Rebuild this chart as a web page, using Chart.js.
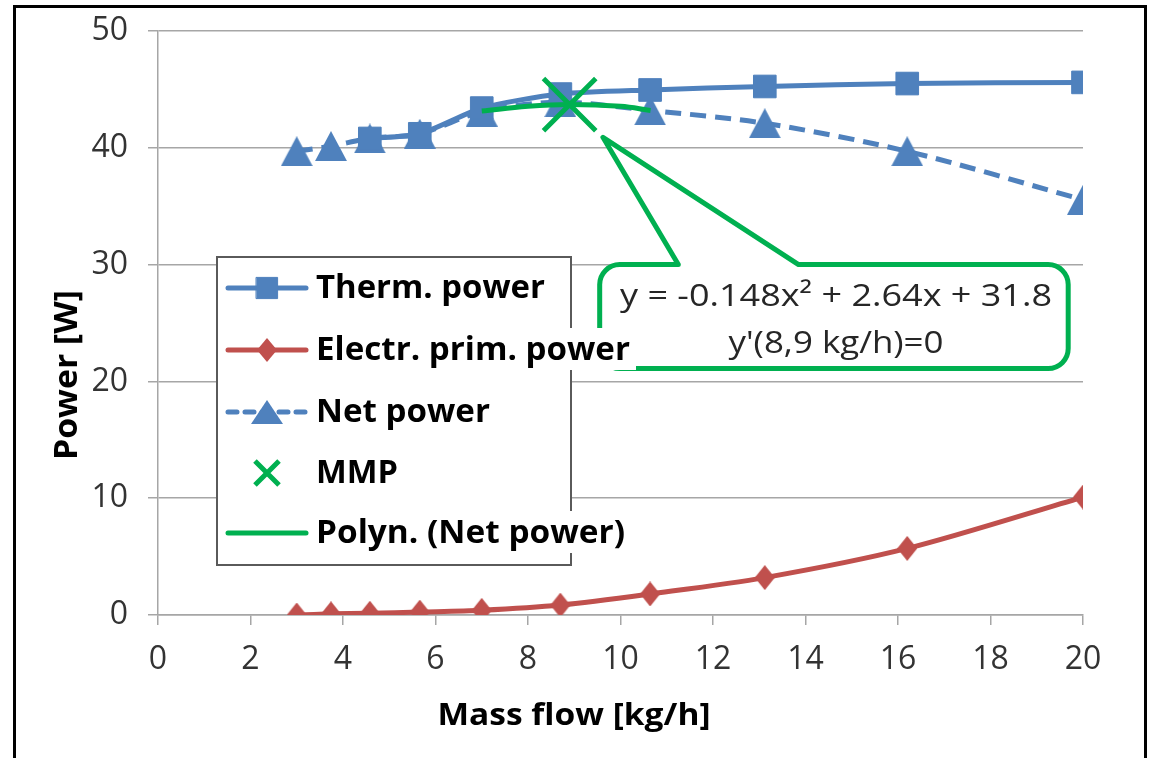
<!DOCTYPE html>
<html>
<head>
<meta charset="utf-8">
<script src="https://cdn.jsdelivr.net/npm/chart.js@4/dist/chart.umd.min.js"></script>
<style>
  html, body { margin: 0; padding: 0; background: #fff; }
  canvas { display: block; }
</style>
</head>
<body>
<canvas id="chart" width="1149" height="758"></canvas>
<script>
// data
const massFlow    = [3.0, 3.74, 4.58, 5.66, 7.0, 8.7, 10.64, 13.12, 16.2, 20.0];
const thermPower  = [null, null, 40.8, 41.2, 43.4, 44.6, 44.95, 45.25, 45.5, 45.6];
const electrPower = [0.0, 0.1, 0.15, 0.25, 0.4, 0.85, 1.8, 3.2, 5.7, 10.1];
const netPower    = [39.7, 40.15, 40.8, 41.2, 43.1, 43.9, 43.2, 42.1, 39.7, 35.55];
const mmpX = [8.9];
const mmpY = [43.7];
const polyX = [7.0, 8.0, 8.9, 10.0, 10.65];
const polyY = [43.15, 43.55, 43.7, 43.55, 43.2];
const xTicks = [0, 2, 4, 6, 8, 10, 12, 14, 16, 18, 20];
const yTicks = [0, 10, 20, 30, 40, 50];
const legendLabels = ["Therm. power", "Electr. prim. power", "Net power", "MMP", "Polyn. (Net power)"];
const eqLines = ["y = -0.148x\u00B2 + 2.64x + 31.8", "y'(8,9 kg/h)=0"];

const BLUE = "#4F81BD";
const RED = "#C0504D";
const GREEN = "#00B050";
const GRID = "#a6a6a6";

function pts(xs, ys) {
  return xs.map((x, i) => ({ x: x, y: ys[i] })).filter(p => p.y !== null);
}

// marker images centred on their box, like the spreadsheet markers
function markerImg(w, h, color, shape) {
  const c = document.createElement("canvas");
  c.width = w; c.height = h;
  const g = c.getContext("2d");
  g.fillStyle = color;
  g.beginPath();
  if (shape === "tri") {
    g.moveTo(w / 2, 0); g.lineTo(w, h); g.lineTo(0, h);
  } else {
    g.moveTo(w / 2, 0); g.lineTo(w, h / 2); g.lineTo(w / 2, h); g.lineTo(0, h / 2);
  }
  g.closePath();
  g.fill();
  return c;
}
const triMark = markerImg(32, 30, BLUE, "tri");
const triLegend = markerImg(32, 24, BLUE, "tri");
const diaMark = markerImg(20, 25, RED, "dia");
const diaLegend = markerImg(20, 24, RED, "dia");

// callout box in data units
const callout = { left: 9.55, right: 19.68, top: 30.0, bottom: 21.1, base1: 11.25, base2: 13.85, tipX: 9.62, tipY: 40.9 };

function roundPath(ctx, L, T, R, B, r, b1, b2, tx, ty) {
  ctx.beginPath();
  ctx.moveTo(L + r, T);
  ctx.lineTo(b1, T);
  ctx.lineTo(tx, ty);
  ctx.lineTo(b2, T);
  ctx.lineTo(R - r, T);
  ctx.arcTo(R, T, R, T + r, r);
  ctx.lineTo(R, B - r);
  ctx.arcTo(R, B, R - r, B, r);
  ctx.lineTo(L + r, B);
  ctx.arcTo(L, B, L, B - r, r);
  ctx.lineTo(L, T + r);
  ctx.arcTo(L, T, L + r, T, r);
  ctx.closePath();
}

// draw text squeezed/stretched to a given width (the source font is wider)
function fitText(ctx, text, x, y, width) {
  const w = ctx.measureText(text).width;
  ctx.save();
  ctx.translate(x, y);
  ctx.scale(width / w, 1);
  ctx.fillText(text, 0, 0);
  ctx.restore();
}

function drawSymbol(ctx, ds, cx, cy) {
  ctx.save();
  if (ds.showLine !== false) {
    ctx.strokeStyle = ds.borderColor;
    ctx.lineWidth = ds.borderWidth;
    ctx.setLineDash(ds.borderDash ? [9, 8] : []);
    ctx.lineCap = "round";
    ctx.beginPath();
    ctx.moveTo(cx - 39, cy);
    ctx.lineTo(cx + 39, cy);
    ctx.stroke();
    ctx.setLineDash([]);
  }
  if (ds.legendRadius) {
    ctx.fillStyle = ds.pointBackgroundColor || ds.borderColor;
    ctx.strokeStyle = ds.pointBorderColor || ds.borderColor;
    ctx.lineWidth = ds.pointBorderWidth || 1;
    Chart.helpers.drawPoint(ctx, {
      pointStyle: ds.legendStyle || ds.pointStyle,
      radius: ds.legendRadius,
      rotation: 0,
      borderWidth: ds.pointBorderWidth || 1
    }, cx, cy);
  }
  ctx.restore();
}

const overlay = {
  id: "overlay",
  afterDatasetsDraw(chart) {
    const ctx = chart.ctx;
    const xs = chart.scales.x, ys = chart.scales.y;

    // equation callout
    const L = xs.getPixelForValue(callout.left), R = xs.getPixelForValue(callout.right);
    const T = ys.getPixelForValue(callout.top), B = ys.getPixelForValue(callout.bottom);
    ctx.save();
    roundPath(ctx, L, T, R, B, 20,
      xs.getPixelForValue(callout.base1), xs.getPixelForValue(callout.base2),
      xs.getPixelForValue(callout.tipX), ys.getPixelForValue(callout.tipY));
    ctx.fillStyle = "#fff";
    ctx.fill();
    ctx.strokeStyle = GREEN;
    ctx.lineWidth = 5;
    ctx.lineJoin = "round";
    ctx.stroke();
    ctx.fillStyle = "#262626";
    ctx.font = '31px "Open Sans"';
    ctx.textAlign = "center";
    ctx.textBaseline = "alphabetic";
    fitText(ctx, eqLines[0], 836, T + 41, 432);
    fitText(ctx, eqLines[1], 836, T + 88, 215);
    ctx.restore();

    // legend
    ctx.save();
    ctx.fillStyle = "#fff";
    ctx.fillRect(217, 257, 354, 308);
    ctx.strokeStyle = "#5a5a5a";
    ctx.lineWidth = 2;
    ctx.strokeRect(217, 257, 354, 308);
    ctx.font = 'bold 33px "Open Sans"';
    ctx.textBaseline = "alphabetic";
    ctx.textAlign = "left";
    const rows = [288, 350, 412, 473, 533];
    const widths = [229, 314, 174, 82, 309];
    chart.data.datasets.forEach((ds, i) => {
      const cy = rows[i];
      drawSymbol(ctx, ds, 267, cy);
      ctx.fillStyle = "#fff";
      ctx.fillRect(314, cy - 22, widths[i] + 8, 42);
      ctx.fillStyle = "#000";
      const w = ctx.measureText(legendLabels[i]).width;
      ctx.save();
      ctx.translate(316, cy + 10);
      ctx.scale(widths[i] / w, 1);
      ctx.fillText(legendLabels[i], 0, 0);
      ctx.restore();
    });
    ctx.restore();

    // axis titles
    ctx.save();
    ctx.fillStyle = "#000";
    ctx.font = 'bold 31px "Open Sans"';
    ctx.textAlign = "center";
    ctx.textBaseline = "alphabetic";
    fitText(ctx, "Mass flow [kg/h]", 574, 725, 273);
    ctx.font = 'bold 33px "Open Sans"';
    ctx.translate(77, 375);
    ctx.rotate(-Math.PI / 2);
    fitText(ctx, "Power [W]", 0, 0, 170);
    ctx.restore();
  },
  afterDraw(chart) {
    const ctx = chart.ctx;
    ctx.save();
    ctx.strokeStyle = "#000";
    ctx.lineWidth = 3;
    ctx.beginPath();
    ctx.moveTo(14.5, 758);
    ctx.lineTo(14.5, 6.5);
    ctx.lineTo(1145.5, 6.5);
    ctx.lineTo(1145.5, 758);
    ctx.stroke();
    ctx.restore();
  }
};

const tickFont = { family: "Open Sans", size: 32 };

new Chart(document.getElementById("chart"), {
  type: "line",
  data: {
    datasets: [
      {
        label: legendLabels[0],
        data: pts(massFlow, thermPower),
        borderColor: BLUE, backgroundColor: BLUE, borderWidth: 5,
        pointStyle: "rect", pointRadius: 16, legendRadius: 15,
        pointBackgroundColor: BLUE, pointBorderColor: BLUE, pointBorderWidth: 1,
        tension: 0.25, order: 2
      },
      {
        label: legendLabels[1],
        data: pts(massFlow, electrPower),
        borderColor: RED, backgroundColor: RED, borderWidth: 5,
        pointStyle: diaMark, legendStyle: diaLegend, pointRadius: 12, legendRadius: 11,
        pointBackgroundColor: RED, pointBorderColor: RED, pointBorderWidth: 1,
        tension: 0.3, order: 4
      },
      {
        label: legendLabels[2],
        data: pts(massFlow, netPower),
        borderColor: BLUE, backgroundColor: BLUE, borderWidth: 5, borderDash: [16, 9],
        pointStyle: triMark, legendStyle: triLegend, pointRadius: 16, legendRadius: 16,
        pointBackgroundColor: BLUE, pointBorderColor: BLUE, pointBorderWidth: 1,
        tension: 0.3, order: 3
      },
      {
        label: legendLabels[3],
        data: pts(mmpX, mmpY),
        showLine: false,
        borderColor: GREEN, backgroundColor: GREEN,
        pointStyle: "crossRot", pointRadius: 37, legendRadius: 17,
        pointBorderColor: GREEN, pointBorderWidth: 5,
        order: 0
      },
      {
        label: legendLabels[4],
        data: pts(polyX, polyY),
        borderColor: GREEN, backgroundColor: GREEN, borderWidth: 5,
        pointRadius: 0, tension: 0.4, order: 1
      }
    ]
  },
  options: {
    responsive: false,
    animation: false,
    layout: { autoPadding: false, padding: { left: 0, top: 31, right: 66, bottom: 0 } },
    plugins: { legend: { display: false }, tooltip: { enabled: false } },
    scales: {
      x: {
        type: "linear", min: 0, max: 20,
        afterFit: s => { s.height = 143; s.paddingLeft = 0; s.paddingRight = 0; },
        afterBuildTicks: s => { s.ticks = xTicks.map(v => ({ value: v })); },
        grid: { drawOnChartArea: false, drawTicks: true, tickLength: 10, color: GRID, lineWidth: 1.5 },
        border: { display: true, color: GRID, width: 1.5 },
        ticks: { font: tickFont, color: "#333", padding: 16, maxRotation: 0 }
      },
      y: {
        min: 0, max: 50,
        afterFit: s => { s.width = 158; s.paddingTop = 0; s.paddingBottom = 0; },
        afterBuildTicks: s => { s.ticks = yTicks.map(v => ({ value: v })); },
        grid: { drawTicks: true, tickLength: 10, color: GRID, lineWidth: 1.5 },
        border: { display: true, color: GRID, width: 1.5 },
        ticks: { font: tickFont, color: "#333", padding: 20 }
      }
    }
  },
  plugins: [overlay]
});
</script>
</body>
</html>
